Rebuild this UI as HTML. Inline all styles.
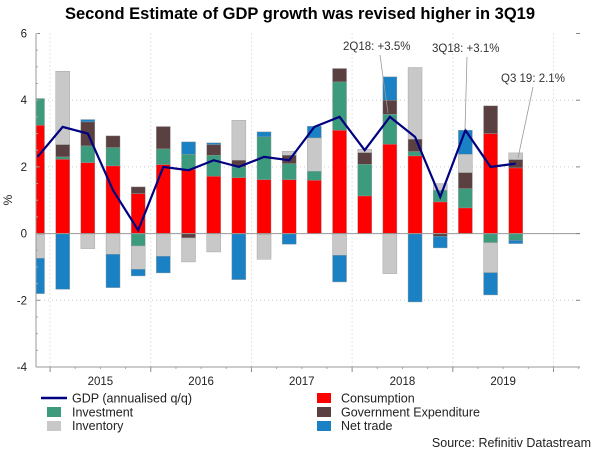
<!DOCTYPE html>
<html><head><meta charset="utf-8"><style>
body{margin:0;background:#fff;font-family:"Liberation Sans",sans-serif;}
svg{display:block}
</style></head><body>
<svg id="chart" width="600" height="457" viewBox="0 0 600 457">
<text x="300" y="19" text-anchor="middle" font-size="16.5" font-weight="bold" fill="#000">Second Estimate of GDP growth was revised higher in 3Q19</text>
<g id="grid"></g>
<g id="bars"></g>
<g id="line"></g>
<g id="axes"></g>
<g font-size="11.5" fill="#333">
<text x="343" y="50">2Q18: +3.5%</text>
<line x1="380" y1="55" x2="388" y2="113" stroke="#999" stroke-width="0.8"/>
<text x="432" y="52">3Q18: +3.1%</text>
<line x1="467" y1="57" x2="465" y2="130" stroke="#999" stroke-width="0.8"/>
<text x="501" y="82">Q3 19: 2.1%</text>
<line x1="533" y1="87" x2="518" y2="158" stroke="#999" stroke-width="0.8"/>
</g>
<g font-size="12.5" fill="#222">
<line x1="41" y1="398" x2="67" y2="398" stroke="#000080" stroke-width="2.5"/>
<text x="72" y="402.5">GDP (annualised q/q)</text>
<rect x="47" y="407" width="14" height="10" fill="#3c9b7c"/>
<text x="72" y="416.5">Investment</text>
<rect x="47" y="421" width="14" height="10" fill="#c8c8c8"/>
<text x="72" y="430">Inventory</text>
<rect x="317" y="393" width="14" height="10" fill="#ff0000"/>
<text x="341" y="402.5">Consumption</text>
<rect x="317" y="407" width="14" height="10" fill="#5a4040"/>
<text x="341" y="416.5">Government Expenditure</text>
<rect x="317" y="421" width="14" height="10" fill="#1a82c4"/>
<text x="341" y="430">Net trade</text>
</g>
<text x="591" y="447" text-anchor="end" font-size="12.5" fill="#222">Source: Refinitiv Datastream</text>
</svg>
<script>
const quarters=["14Q4","15Q1","15Q2","15Q3","15Q4","16Q1","16Q2","16Q3","16Q4","17Q1","17Q2","17Q3","17Q4","18Q1","18Q2","18Q3","18Q4","19Q1","19Q2","19Q3"];
const consumption=[3.25,2.23,2.13,2.03,1.2,2.07,1.93,1.72,1.68,1.62,1.62,1.6,3.1,1.13,2.68,2.33,0.95,0.77,3.0,1.97];
const investment=[0.8,0.07,0.5,0.55,-0.37,0.47,0.45,0.63,0.32,1.28,0.48,0.27,1.45,0.95,0.9,0.13,0.35,0.58,-0.27,-0.2];
const government=[-0.02,0.37,0.72,0.35,0.2,0.67,-0.13,0.32,0.2,-0.02,0.25,0.0,0.4,0.35,0.42,0.37,-0.08,0.48,0.83,0.25];
const inventory=[-0.72,2.2,-0.45,-0.62,-0.7,-0.68,-0.72,-0.55,1.2,-0.75,0.12,1.0,-0.65,0.1,-1.2,2.15,0.2,0.55,-0.9,0.2];
const netTrade=[-1.06,-1.67,0.07,-1.0,-0.2,-0.5,0.37,0.05,-1.38,0.15,-0.32,0.35,-0.8,0.0,0.7,-2.05,-0.35,0.72,-0.67,-0.1];
const gdp=[2.3,3.2,3.0,1.3,0.1,2.0,1.9,2.2,2.0,2.3,2.2,3.2,3.5,2.5,3.5,2.9,1.1,3.1,2.0,2.1];
const yTicks=[6,4,2,0,-2,-4];
const years=["2015","2016","2017","2018","2019"];

const NS="http://www.w3.org/2000/svg";
const X0=36,X1=580,Y_TOP=33.5,Y_BOT=367;
const yMin=-4,yMax=6;
const step=25.17, firstCenter=37.5;
function y(v){return Y_TOP+(yMax-v)/(yMax-yMin)*(Y_BOT-Y_TOP);}
function x(i){return firstCenter+i*step;}
function mk(tag,attrs,parent){const e=document.createElementNS(NS,tag);for(const k in attrs)e.setAttribute(k,attrs[k]);parent.appendChild(e);return e;}

const grid=document.getElementById('grid');
const axes=document.getElementById('axes');
const defs=mk('defs',{},document.getElementById('chart'));
const cp=mk('clipPath',{id:'plotclip'},defs);
mk('rect',{x:X0,y:0,width:X1-X0,height:457},cp);

yTicks.forEach(t=>{
  if(t!==0&&t!==yMin&&t!==yMax){
    const g=mk('line',{x1:X0,x2:X1,y1:y(t),y2:y(t),stroke:'#ccc','stroke-dasharray':'1,3','stroke-width':1},grid);
    
    
  }
  const lb=mk('text',{x:27,y:y(t)+4,'text-anchor':'end','font-size':11.5,fill:'#222'},axes);
  lb.textContent=t;
  
  
  mk('line',{x1:X0,x2:X0+4,y1:y(t),y2:y(t),stroke:'#888'},axes);
  mk('line',{x1:X1-4,x2:X1,y1:y(t),y2:y(t),stroke:'#888'},axes);
});
for(let v=yMin;v<=yMax;v+=0.5){mk('line',{x1:X0,x2:X0+2,y1:y(v),y2:y(v),stroke:'#aaa'},axes);}
const yt=mk('text',{x:12,y:200,'text-anchor':'middle','font-size':12,fill:'#222',transform:'rotate(-90 12 200)'},axes);
yt.textContent='%';



years.forEach((yr,k)=>{
  const xs=x(1+4*k)-step/2;
  const gl=mk('line',{x1:xs,x2:xs,y1:Y_TOP,y2:Y_BOT,stroke:'#ccc','stroke-dasharray':'1,3'},grid);
  
  
  mk('line',{x1:xs,x2:xs,y1:Y_BOT,y2:Y_BOT+5,stroke:'#888'},axes);
  const lb=mk('text',{x:xs+2*step,y:385,'text-anchor':'middle','font-size':11.5,fill:'#222'},axes);
  lb.textContent=yr;
  
  
  if(k===years.length-1){const xe=xs+4*step;mk('line',{x1:xe,x2:xe,y1:Y_TOP,y2:Y_BOT,stroke:'#ccc','stroke-dasharray':'1,3'},grid);mk('line',{x1:xe,x2:xe,y1:Y_BOT,y2:Y_BOT+5,stroke:'#888'},axes);}
});
for(let i=0;i<quarters.length+3;i++){const xs=x(i)-step/2;if(xs>X0)mk('line',{x1:xs,x2:xs,y1:Y_BOT,y2:Y_BOT+2,stroke:'#aaa'},axes);}
mk('line',{x1:X0,x2:X0,y1:Y_TOP,y2:Y_BOT,stroke:'#999'},axes);
mk('line',{x1:X0,x2:X1,y1:Y_BOT,y2:Y_BOT,stroke:'#999'},axes);

const series=[["consumption",consumption,"#ff0000"],["investment",investment,"#3c9b7c"],["government",government,"#5a4040"],["inventory",inventory,"#c8c8c8"],["net-trade",netTrade,"#1a82c4"]];
const bars=document.getElementById('bars');
bars.setAttribute('clip-path','url(#plotclip)');
const bw=14;
quarters.forEach((q,i)=>{
  let pos=0,neg=0;
  series.forEach(([name,arr,col])=>{
    const v=arr[i];if(v===0)return;
    let a,b;
    if(v>0){a=pos;b=pos+v;pos=b;}else{a=neg;b=neg+v;neg=b;}
    const top=y(Math.max(a,b)),bot=y(Math.min(a,b));
    const r=mk('rect',{x:x(i)-bw/2,y:top,width:bw,height:Math.max(bot-top,0.5),fill:col,stroke:'#999','stroke-width':0.4},bars);
    
    
  });
});
const zl=mk('line',{x1:X0,x2:X1,y1:y(0),y2:y(0),stroke:'#999','stroke-width':1},bars);



const pl=mk('polyline',{points:gdp.map((v,i)=>x(i)+','+y(v)).join(' '),fill:'none',stroke:'#000080','stroke-width':2.2,'stroke-linejoin':'miter'},document.getElementById('line'));


</script>
</body></html>
